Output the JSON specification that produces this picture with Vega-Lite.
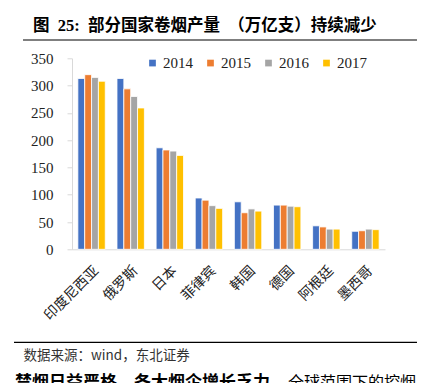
{
  "$schema": "https://vega.github.io/schema/vega-lite/v6.json",
  "autosize": "none",
  "width": 313,
  "height": 191,
  "padding": {"left": 72, "top": 58.3, "right": 40, "bottom": 133.7},
  "background": "white",
  "title": {
    "text": "图\u00a0\u00a025:\u00a0\u00a0部分国家卷烟产量\u00a0\u00a0（万亿支）持续减少",
    "anchor": "start",
    "frame": "group",
    "dx": -39,
    "offset": 5,
    "font": "Liberation Serif, Noto Sans CJK SC",
    "fontSize": 16.5,
    "fontWeight": "bold",
    "color": "#000000"
  },
  "config": {
    "view": {"stroke": null},
    "axis": {"grid": false}
  },
  "layer": [
    {
      "data": {
        "values": [
          {"country": "印度尼西亚", "year": "2014", "value": 313},
          {"country": "印度尼西亚", "year": "2015", "value": 320},
          {"country": "印度尼西亚", "year": "2016", "value": 315},
          {"country": "印度尼西亚", "year": "2017", "value": 308},
          {"country": "俄罗斯", "year": "2014", "value": 313},
          {"country": "俄罗斯", "year": "2015", "value": 294},
          {"country": "俄罗斯", "year": "2016", "value": 280},
          {"country": "俄罗斯", "year": "2017", "value": 259},
          {"country": "日本", "year": "2014", "value": 186},
          {"country": "日本", "year": "2015", "value": 182},
          {"country": "日本", "year": "2016", "value": 180},
          {"country": "日本", "year": "2017", "value": 172},
          {"country": "菲律宾", "year": "2014", "value": 94},
          {"country": "菲律宾", "year": "2015", "value": 90},
          {"country": "菲律宾", "year": "2016", "value": 80},
          {"country": "菲律宾", "year": "2017", "value": 75},
          {"country": "韩国", "year": "2014", "value": 87},
          {"country": "韩国", "year": "2015", "value": 67},
          {"country": "韩国", "year": "2016", "value": 74},
          {"country": "韩国", "year": "2017", "value": 70},
          {"country": "德国", "year": "2014", "value": 81},
          {"country": "德国", "year": "2015", "value": 81},
          {"country": "德国", "year": "2016", "value": 79},
          {"country": "德国", "year": "2017", "value": 78},
          {"country": "阿根廷", "year": "2014", "value": 43},
          {"country": "阿根廷", "year": "2015", "value": 41},
          {"country": "阿根廷", "year": "2016", "value": 37},
          {"country": "阿根廷", "year": "2017", "value": 37},
          {"country": "墨西哥", "year": "2014", "value": 33},
          {"country": "墨西哥", "year": "2015", "value": 34},
          {"country": "墨西哥", "year": "2016", "value": 37},
          {"country": "墨西哥", "year": "2017", "value": 36}
        ]
      },
      "mark": {"type": "bar", "stroke": "white", "strokeWidth": 0.8},
      "encoding": {
        "x": {
          "field": "country",
          "type": "nominal",
          "sort": ["印度尼西亚", "俄罗斯", "日本", "菲律宾", "韩国", "德国", "阿根廷", "墨西哥"],
          "scale": {"paddingInner": 0.3, "paddingOuter": 0.15},
          "axis": {
            "title": "数据来源：wind，东北证券",
            "titleFont": "Noto Sans CJK SC",
            "titleFontSize": 13.5,
            "titleFontWeight": "normal",
            "titleColor": "#333333",
            "titleAlign": "left",
            "titleBaseline": "middle",
            "titleAnchor": "start",
            "titleX": -49,
            "titleY": 106,
            "labelAngle": -45,
            "labelFont": "Noto Sans CJK SC",
            "labelFontSize": 14,
            "labelColor": "#222222",
            "labelPadding": 14,
            "ticks": false,
            "domainColor": "#D9D9D9",
            "domainWidth": 1
          }
        },
        "xOffset": {"field": "year", "type": "nominal", "scale": {"paddingInner": 0}},
        "y": {
          "field": "value",
          "type": "quantitative",
          "scale": {"domain": [0, 350], "nice": false},
          "axis": {
            "title": null,
            "values": [0, 50, 100, 150, 200, 250, 300, 350],
            "labelOverlap": false,
            "labelFont": "Liberation Serif",
            "labelFontSize": 15,
            "labelColor": "#222222",
            "labelPadding": 14,
            "tickSize": 5,
            "tickColor": "#D9D9D9",
            "domainColor": "#D9D9D9"
          }
        },
        "color": {
          "field": "year",
          "type": "nominal",
          "scale": {"domain": ["2014", "2015", "2016", "2017"], "range": ["#4472C4", "#ED7D31", "#A5A5A5", "#FFC000"]},
          "legend": {
            "title": null,
            "orient": "none",
            "legendX": 73,
            "legendY": -3,
            "direction": "horizontal",
            "columns": 4,
            "symbolType": "square",
            "symbolSize": 45,
            "symbolStrokeWidth": 0,
            "labelFont": "Liberation Serif",
            "labelFontSize": 15,
            "labelColor": "#222222",
            "labelOffset": 3,
            "columnPadding": 10
          }
        }
      }
    },
    {
      "data": {"values": [{}]},
      "mark": {"type": "rule", "color": "#000000", "strokeWidth": 1.2},
      "encoding": {
        "x": {"datum": -0.1565, "type": "quantitative", "scale": {"domain": [0, 1]}, "axis": null},
        "x2": {"datum": 1.1022},
        "y": {"datum": 383.5, "type": "quantitative", "axis": null}
      }
    },
    {
      "data": {"values": [{}]},
      "mark": {"type": "rule", "color": "#000000", "strokeWidth": 1.2},
      "encoding": {
        "x": {"datum": -0.1853, "type": "quantitative", "scale": {"domain": [0, 1]}, "axis": null},
        "x2": {"datum": 1.1022},
        "y": {"datum": -170.4, "type": "quantitative", "axis": null}
      }
    },
    {
      "data": {"values": [{}]},
      "mark": {"type": "text", "text": "禁烟日益严格，各大烟企增长乏力。", "font": "Noto Sans CJK SC", "fontSize": 17, "fontWeight": "bold", "align": "left", "baseline": "top", "color": "#000000"},
      "encoding": {
        "x": {"datum": -0.182, "type": "quantitative", "scale": {"domain": [0, 1]}, "axis": null},
        "y": {"datum": -230, "type": "quantitative", "axis": null}
      }
    },
    {
      "data": {"values": [{}]},
      "mark": {"type": "text", "text": "全球范围下的控烟", "font": "Noto Sans CJK SC", "fontSize": 16, "align": "left", "baseline": "top", "color": "#000000"},
      "encoding": {
        "x": {"datum": 0.690, "type": "quantitative", "scale": {"domain": [0, 1]}, "axis": null},
        "y": {"datum": -230, "type": "quantitative", "axis": null}
      }
    }
  ],
  "resolve": {"scale": {"x": "independent"}, "axis": {"y": "independent"}}
}
